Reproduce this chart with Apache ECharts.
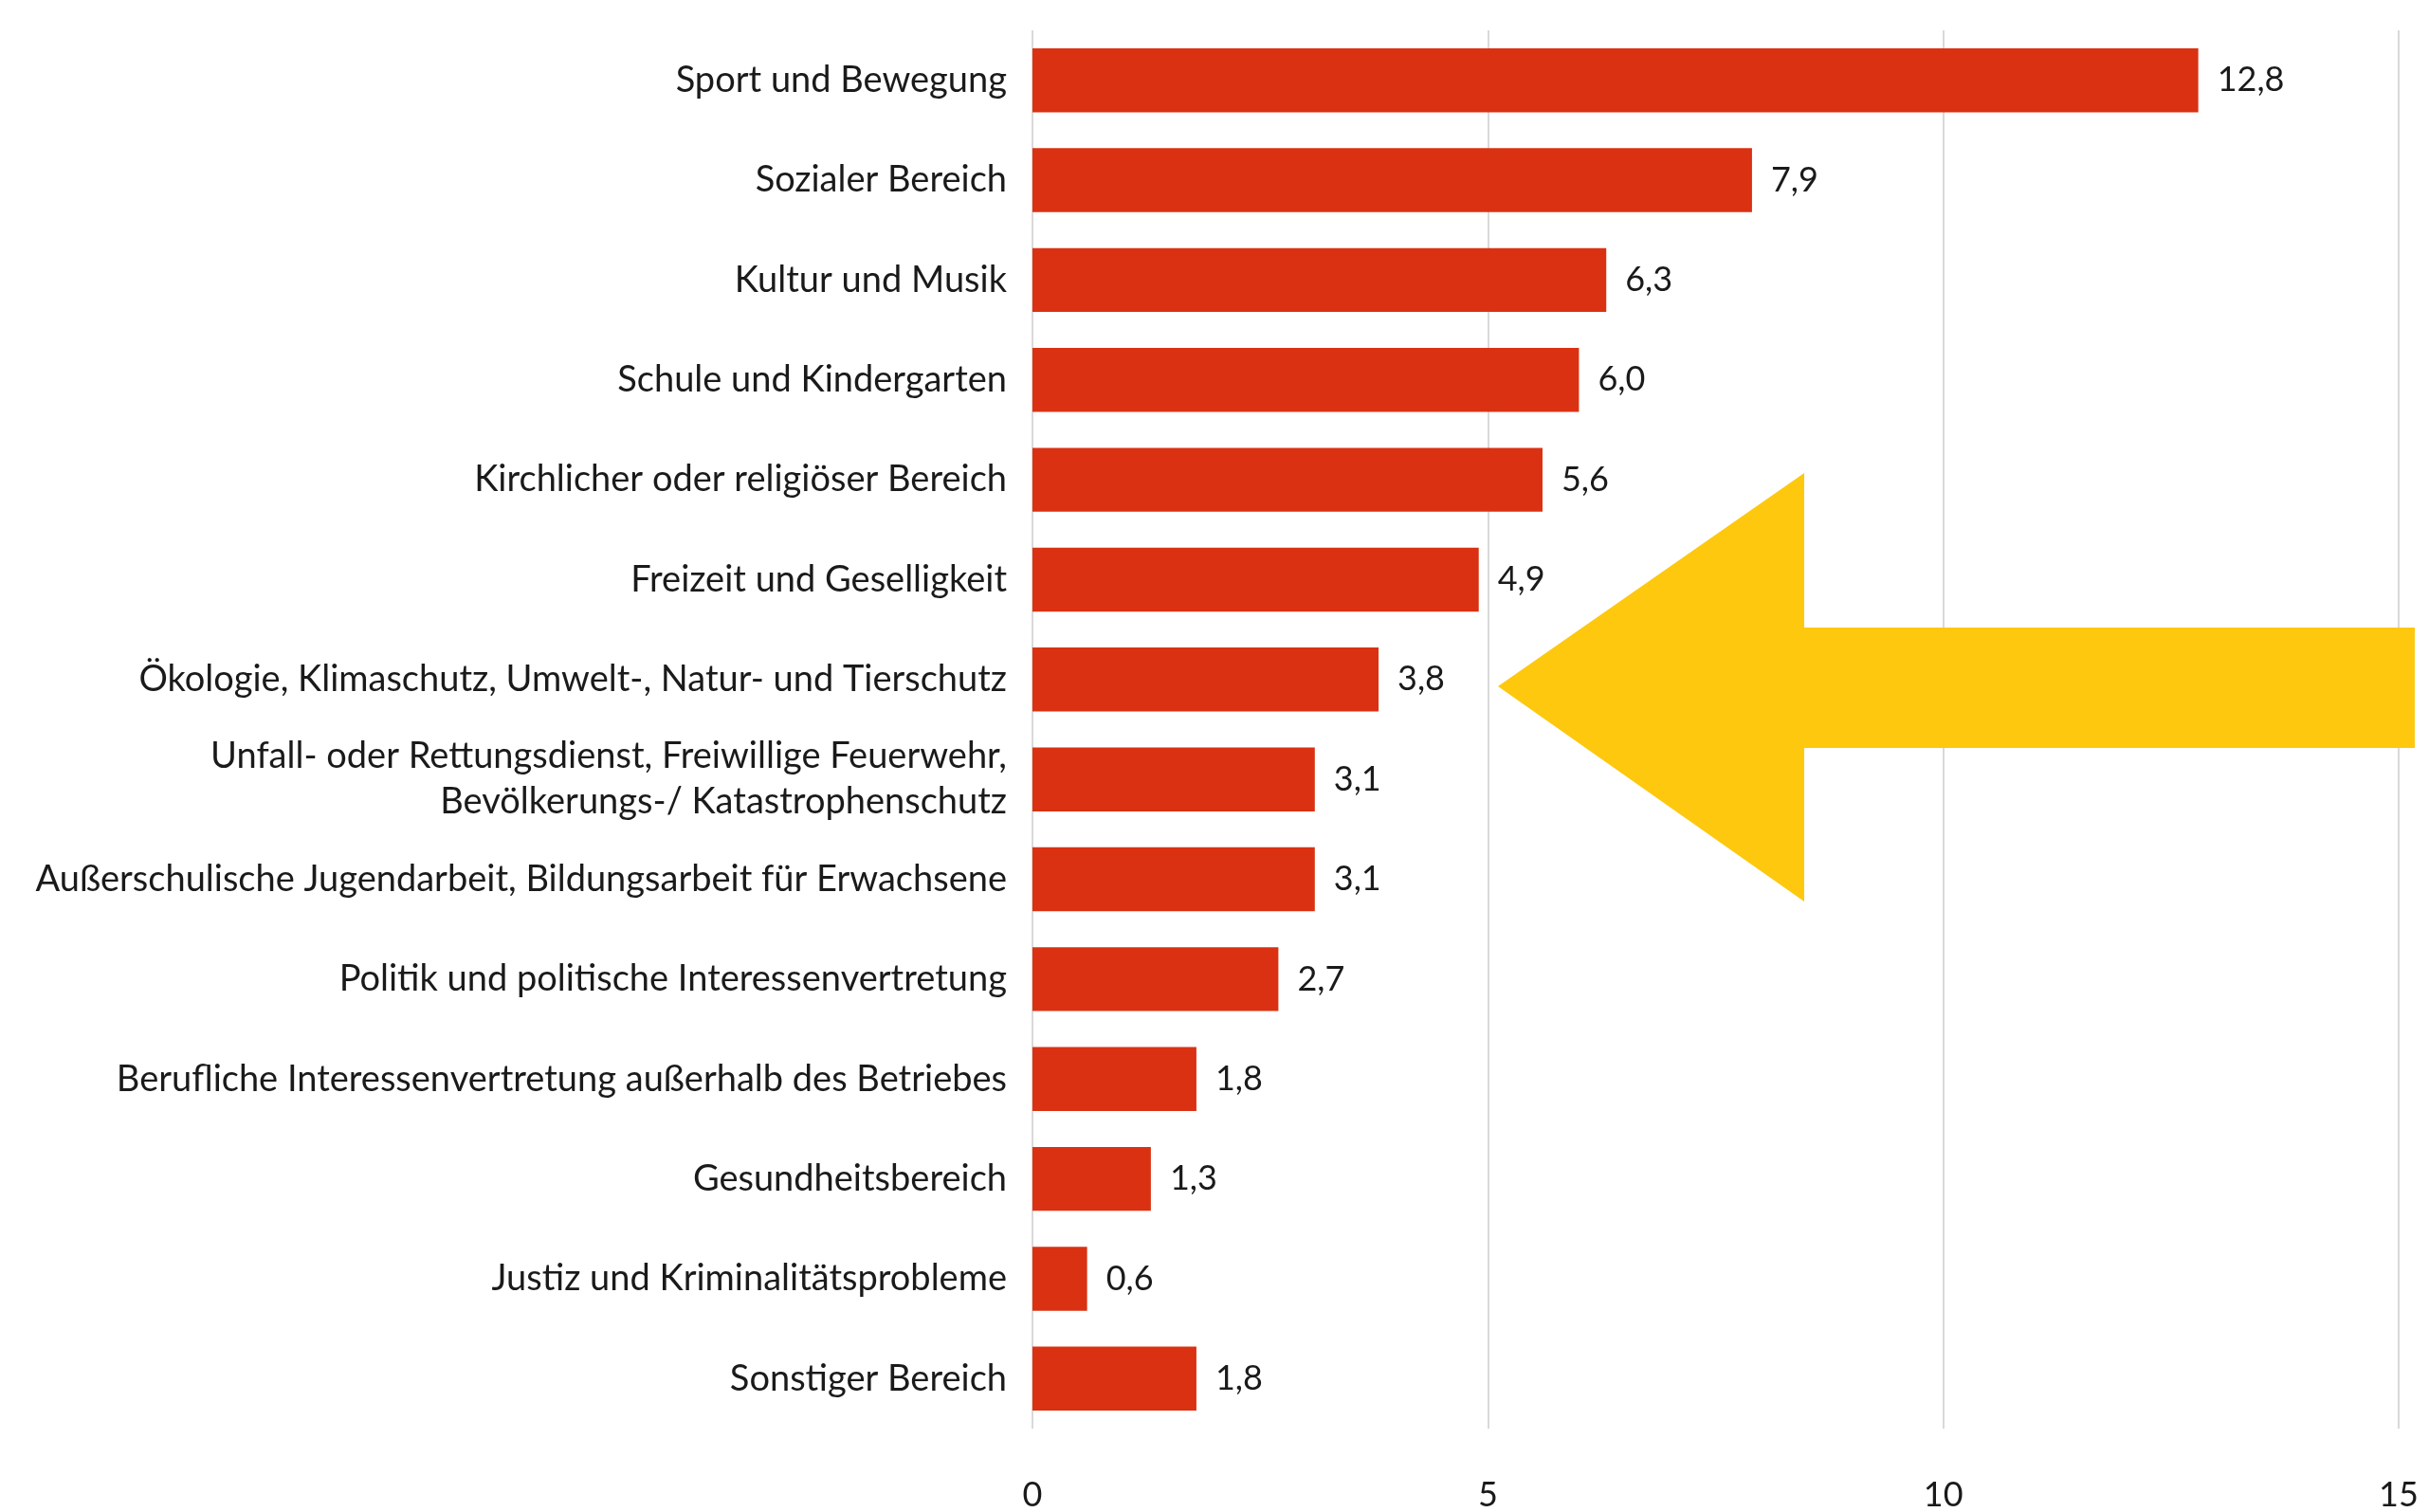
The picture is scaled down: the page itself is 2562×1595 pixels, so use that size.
<!DOCTYPE html>
<html lang="de">
<head>
    <meta charset="UTF-8">
    <title>Engagementbereiche</title>
    <style>
      html, body { margin: 0; padding: 0; background: #fff; }
      #chart { width: 2562px; height: 1595px; }
    </style>
</head>
<body>
    <div id="chart"></div>
    <script src="https://cdn.jsdelivr.net/npm/echarts@6/dist/echarts.min.js"></script>
    <script>
// Bereiche (von oben nach unten)
const bereiche = [
  'Sport und Bewegung',
  'Sozialer Bereich',
  'Kultur und Musik',
  'Schule und Kindergarten',
  'Kirchlicher oder religiöser Bereich',
  'Freizeit und Geselligkeit',
  'Ökologie, Klimaschutz, Umwelt-, Natur- und Tierschutz',
  'Unfall- oder Rettungsdienst, Freiwillige Feuerwehr,\nBevölkerungs-/ Katastrophenschutz',
  'Außerschulische Jugendarbeit, Bildungsarbeit für Erwachsene',
  'Politik und politische Interessenvertretung',
  'Berufliche Interessenvertretung außerhalb des Betriebes',
  'Gesundheitsbereich',
  'Justiz und Kriminalitätsprobleme',
  'Sonstiger Bereich'
];
const werte = [12.8, 7.9, 6.3, 6.0, 5.6, 4.9, 3.8, 3.1, 3.1, 2.7, 1.8, 1.3, 0.6, 1.8];
const achseMin = 0;
const achseMax = 15;
const achseSchritt = 5;

const schrift = 'Lato, "Noto Sans", sans-serif';

const myChart = echarts.init(document.querySelector('#chart'));

const option = {
  backgroundColor: '#ffffff',
  animation: false,
  grid: {
    left: 1089,
    right: 32,
    top: 32,
    bottom: 80
  },
  xAxis: {
    type: 'value',
    min: achseMin,
    max: achseMax,
    interval: achseSchritt,
    axisLine: { show: false },
    axisTick: { show: false },
    splitLine: { show: true, lineStyle: { color: '#d9d9d9', width: 2 } },
    axisLabel: {
      margin: 52,
      fontFamily: schrift,
      fontSize: 36,
      color: '#1a1a1a'
    }
  },
  yAxis: {
    type: 'category',
    inverse: true,
    data: bereiche,
    axisLine: { show: false },
    axisTick: { show: false },
    axisLabel: {
      margin: 27,
      fontFamily: schrift,
      fontSize: 38,
      lineHeight: 48,
      color: '#1a1a1a',
      align: 'right'
    }
  },
  series: [
    {
      type: 'bar',
      data: werte,
      barCategoryGap: '36%',
      itemStyle: { color: '#da3112' },
      label: {
        show: true,
        position: 'right',
        distance: 20,
        fontFamily: schrift,
        fontSize: 36,
        color: '#1a1a1a',
        formatter: (p) => p.value.toFixed(1).replace('.', ',')
      }
    }
  ],
  // gelber Pfeil als Hinweis
  graphic: [
    {
      type: 'polygon',
      z: 100,
      shape: {
        points: [
          [1580, 724], [1903, 499], [1903, 662], [2547, 662],
          [2547, 789], [1903, 789], [1903, 951]
        ]
      },
      style: { fill: '#fec80e' }
    }
  ]
};

myChart.setOption(option);
    </script>
</body>
</html>
